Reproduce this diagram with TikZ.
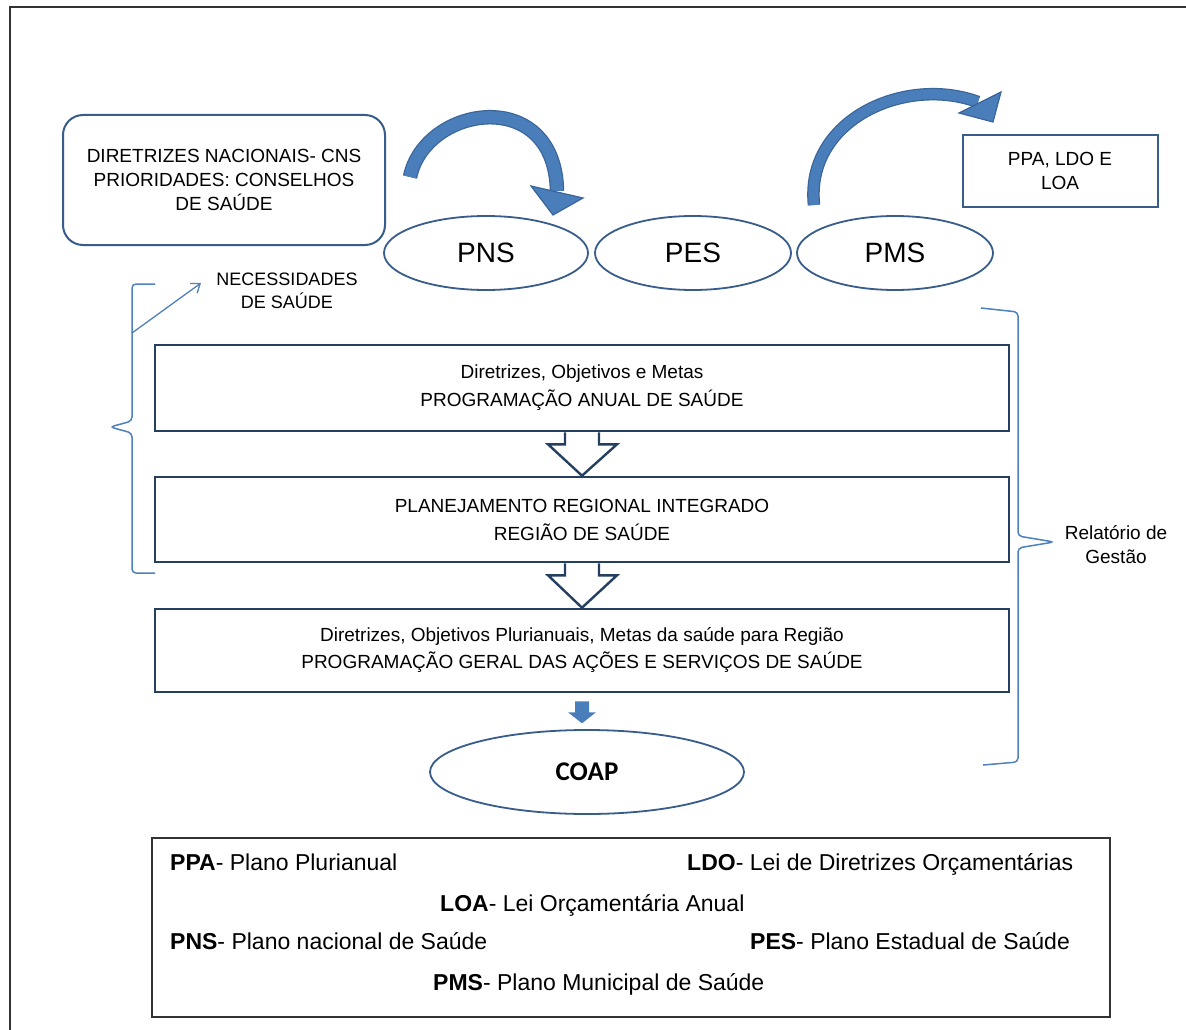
\documentclass[tikz,border=0pt]{standalone}
\usepackage{fontspec}
\setmainfont{Liberation Sans}
\newfontfamily\carl{Carlito}
\usetikzlibrary{arrows.meta,calc,shapes.geometric}
\definecolor{navy}{HTML}{243F60}
\definecolor{ellline}{HTML}{385D8A}
\definecolor{lightblue}{HTML}{4F81BD}
\definecolor{arrowblue}{HTML}{4A7EBB}
\definecolor{arrowedge}{HTML}{3A6598}
\definecolor{framegray}{HTML}{333333}
\begin{document}
\begin{tikzpicture}[x=1pt,y=-1pt,
  upper/.style={font=\fontsize{19}{24}\selectfont, align=center, inner sep=0},
  rbox/.style={draw=ellline, line width=2, rounded corners=20, minimum width=322, minimum height=130, upper},
  oval/.style={ellipse, draw=ellline, line width=1.8, inner sep=0, font=\fontsize{28}{30}\selectfont},
  bigbox/.style={draw=navy, line width=2.6, minimum width=854, inner sep=0, align=center, font=\fontsize{19}{28}\selectfont},
  hollow/.style={draw=navy, line width=2.4, fill=white, line join=miter},
  bracestyle/.style={draw=lightblue, line width=1.5, rounded corners=4},
  legtext/.style={anchor=base west, font=\fontsize{23}{26}\selectfont, inner sep=0},
  shaftedge/.style={line width=14.5, draw=arrowedge},
  curvshaft/.style={line width=12, draw=arrowblue},
  curvhead/.style={fill=arrowblue, draw=arrowedge, line width=1.2, line join=miter}
]
\useasboundingbox (0,0) rectangle (1186,1030);
\fill[white] (0,0) rectangle (1186,1030);
% outer frame (top and left edges only)
\draw[framegray, line width=1.6] (10,1030) -- (10,7) -- (1186,7);

% top row
\node[rbox] (dir) at (224,180) {DIRETRIZES NACIONAIS- CNS\\PRIORIDADES: CONSELHOS\\DE SAÚDE};
\node[oval, minimum width=204, minimum height=74] (pns) at (486,253) {PNS};
\node[oval, minimum width=196, minimum height=74] (pes) at (693,253) {PES};
\node[oval, minimum width=196, minimum height=74] (pms) at (895,253) {PMS};
\node[draw=ellline, line width=2, minimum width=195, minimum height=72, upper] (ppa) at (1060,171) {PPA, LDO E\\LOA};
\node[upper, font=\fontsize{18}{23}\selectfont] (nec) at (287,291) {NECESSIDADES\\DE SAÚDE};

% curved arrows
\coordinate (c1s) at (410,177);
\coordinate (c1e) at (557,191);
\draw[shaftedge] (c1s) .. controls (425,105) and (555,85) .. (c1e);
\draw[curvshaft] (c1s) .. controls (425,105) and (555,85) .. (c1e);
\filldraw[curvhead] (531,186) -- (553,215) -- (583,198) -- cycle;
\coordinate (c2s) at (814,205);
\coordinate (c2e) at (978,102);
\draw[shaftedge, line width=12.5] (c2s) .. controls (805,120) and (905,75) .. (c2e);
\draw[curvshaft, line width=10] (c2s) .. controls (805,120) and (905,75) .. (c2e);
\filldraw[curvhead] (959,113) -- (1001,92) -- (993,122) -- cycle;

% main boxes
\node[bigbox, minimum height=86] (b1) at (582,388) {Diretrizes, Objetivos e Metas\\PROGRAMAÇÃO ANUAL DE SAÚDE};
\node[bigbox, minimum height=85] (b2) at (582,519.5) {PLANEJAMENTO REGIONAL INTEGRADO\\REGIÃO DE SAÚDE};
\node[bigbox, minimum height=83, font=\fontsize{19}{27}\selectfont] (b3) at (582,650.5) {Diretrizes, Objetivos Plurianuais, Metas da saúde para Região\\PROGRAMAÇÃO GERAL DAS AÇÕES E SERVIÇOS DE SAÚDE};

% hollow arrows
\draw[hollow] ($(b1.south)+(-17,0)$) -- ++(0,12) -- ++(-17,0) -- (b2.north) -- ($(b1.south)+(35,12)$) -- ++(-18,0) -- ($(b1.south)+(17,0)$);
\draw[hollow] ($(b2.south)+(-17,0)$) -- ++(0,12) -- ++(-17,0) -- (b3.north) -- ($(b2.south)+(35,12)$) -- ++(-18,0) -- ($(b2.south)+(17,0)$);

% COAP
\node[oval, minimum width=314, minimum height=84, font=\carl\bfseries\fontsize{27}{30}\selectfont] (coap) at (587,772) {COAP};
\fill[arrowblue] ($(b3.south)+(-7,8)$) -- ++(14,0) -- ++(0,11) -- ++(7,0) -- ++(-14,11) -- ++(-14,-11) -- ++(7,0) -- cycle;

% braces
\draw[bracestyle] (155,284) -- (132,284) -- (132,421) -- (110,427) -- (132,433) -- (132,573) -- (155,573);
\coordinate (lb) at (132,333);
\coordinate (necpt) at (201,283);
\draw[lightblue, line width=1.3, -{Straight Barb[length=8pt,width=12pt]}] (lb) -- (necpt);
\draw[bracestyle] (981,308) -- (1018,312) -- (1018,536) -- (1054,542) -- (1018,548) -- (1018,762) -- (983,765);
\node[upper] (rel) at (1116,545) {Relatório de\\Gestão};

% legend
\node[draw=framegray, line width=1.8, minimum width=958, minimum height=179, inner sep=0] (leg) at (631,927.5) {};
\node[legtext] (l1) at (170,870) {\textbf{PPA}- Plano Plurianual};
\node[legtext] (l2) at (687,870) {\textbf{LDO}- Lei de Diretrizes Orçamentárias};
\node[legtext] (l3) at (440,911) {\textbf{LOA}- Lei Orçamentária Anual};
\node[legtext] (l4) at (170,949) {\textbf{PNS}- Plano nacional de Saúde};
\node[legtext] (l5) at (750,949) {\textbf{PES}- Plano Estadual de Saúde};
\node[legtext] (l6) at (433,990) {\textbf{PMS}- Plano Municipal de Saúde};
\end{tikzpicture}
\end{document}
